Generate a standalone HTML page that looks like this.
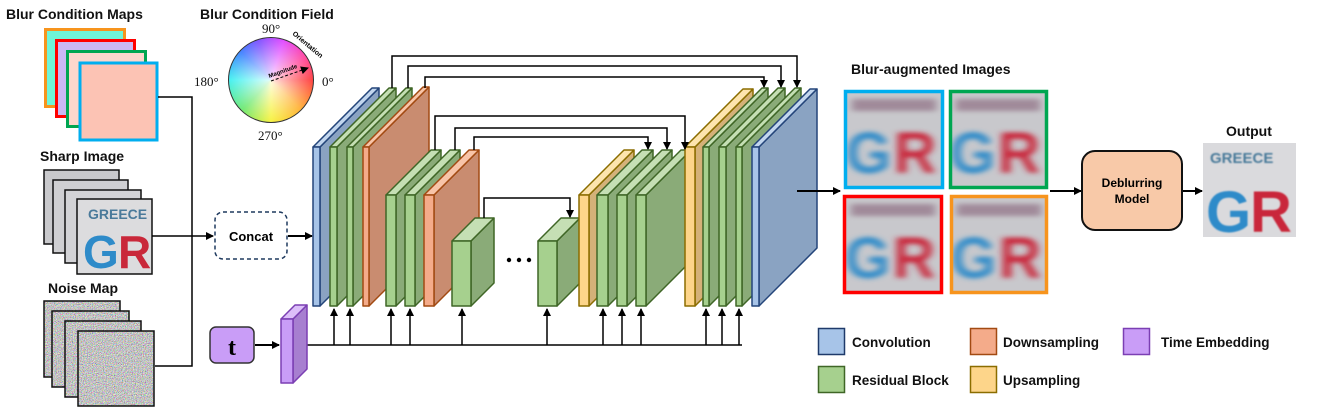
<!DOCTYPE html>
<html><head><meta charset="utf-8">
<style>
body{margin:0;background:#fff;width:1323px;height:416px;overflow:hidden;position:relative;font-family:"Liberation Sans",sans-serif}
svg{position:absolute;left:0;top:0}
.wheel{position:absolute;left:228px;top:37px;width:86px;height:86px;border-radius:50%;border:1.5px solid #333;box-sizing:border-box;
background:radial-gradient(circle,rgba(255,255,255,.85) 0,rgba(255,255,255,0) 75%),conic-gradient(from 90deg,#ff3a3a,#ffb030 ,#f6f23a 25%,#6be86b 37%,#3ef0f0 50%,#3a7cff 62%,#7a4dff 70%,#e044ff 80%,#ff40a0 90%,#ff3a3a)}
</style></head><body>
<div class="wheel"></div>
<svg width="1323" height="416" viewBox="0 0 1323 416" font-family="Liberation Sans, sans-serif">
<defs>
<marker id="ar" markerWidth="8" markerHeight="8" refX="7" refY="4" orient="auto" markerUnits="userSpaceOnUse"><path d="M0,0L8,4L0,8z" fill="#000"/></marker>
<filter id="bl" x="-20%" y="-20%" width="140%" height="140%"><feGaussianBlur stdDeviation="4 2.5"/></filter>
<filter id="bl2"><feGaussianBlur stdDeviation="0.8"/></filter>
<filter id="nz" filterUnits="objectBoundingBox" x="0" y="0" width="1" height="1"><feTurbulence type="fractalNoise" baseFrequency="1.1" numOctaves="1" seed="3"/><feColorMatrix type="matrix" values="1.8 0 0 0 -0.35  0 1.8 0 0 -0.35  0 0 1.8 0 -0.35  0 0 0 0 1"/></filter>
</defs>
<g font-weight="bold" font-size="14" fill="#111">
<text x="6" y="19">Blur Condition Maps</text>
<text x="200" y="19">Blur Condition Field</text>
<text x="40" y="161">Sharp Image</text>
<text x="48" y="293">Noise Map</text>
<text x="851" y="74">Blur-augmented Images</text>
<text x="1226" y="136">Output</text>
</g>
<g font-family="Liberation Serif, serif" font-size="13" fill="#111">
<text x="262" y="33">90°</text><text x="194" y="86">180°</text><text x="322" y="86">0°</text><text x="258" y="140">270°</text>
</g>
<text x="287" y="42" font-size="7" font-weight="bold" transform="rotate(40 300 45)">Orientation</text>
<line x1="271" y1="81" x2="308" y2="68" stroke="#000" stroke-dasharray="3,2" marker-end="url(#ar)"/>
<text x="268" y="74" font-size="6" font-weight="bold" transform="rotate(-20 280 72)">Magnitude</text>
<!-- blur maps -->
<rect x="45.5" y="29.5" width="79" height="77" fill="#6ff5d8" stroke="#f7941d" stroke-width="3"/>
<rect x="56.5" y="40.5" width="78" height="76" fill="#cbb8f5" stroke="#f00" stroke-width="3"/>
<rect x="67.5" y="51.5" width="78" height="75" fill="#fcd7cc" stroke="#00a651" stroke-width="3"/>
<rect x="80" y="63" width="77" height="77" fill="#fcc3b4" stroke="#00aeef" stroke-width="3"/>
<!-- sharp -->
<g stroke="#111" stroke-width="1.5">
<rect x="44" y="170" width="75" height="74" fill="#c9c9cc"/>
<rect x="53" y="180" width="75" height="73" fill="#cfcfd2"/>
<rect x="65" y="190" width="76" height="73" fill="#d3d3d6"/>
<rect x="77" y="199" width="75" height="75" fill="#dcdcde"/>
</g>
<text x="88" y="219" font-size="14" font-weight="bold" fill="#4a7a9a">GREECE</text>
<text x="83" y="268" font-size="46" font-weight="bold" fill="#2e8bc9">G</text><text x="118" y="268" font-size="46" font-weight="bold" fill="#c9283a">R</text>
<!-- noise -->
<g stroke="#111" stroke-width="1.5">
<rect x="44" y="301" width="76" height="76" fill="#8c8a88" filter="url(#nz)"/>
<rect x="44" y="301" width="76" height="76" fill="none"/>
<rect x="52" y="311" width="77" height="76" fill="#8c8a88" filter="url(#nz)"/>
<rect x="52" y="311" width="77" height="76" fill="none"/>
<rect x="65" y="321" width="76" height="76" fill="#8c8a88" filter="url(#nz)"/>
<rect x="65" y="321" width="76" height="76" fill="none"/>
<rect x="78" y="331" width="76" height="75" fill="#8c8a88" filter="url(#nz)"/>
<rect x="78" y="331" width="76" height="75" fill="none"/>
</g>
<g stroke="#000" stroke-width="1.5" fill="none">
<polyline points="158,97 192,97 192,366 155,366"/>
<line x1="152" y1="236" x2="213" y2="236" marker-end="url(#ar)"/>
<line x1="288" y1="236" x2="312" y2="236" marker-end="url(#ar)" stroke-width="2"/>
<line x1="255" y1="345" x2="279" y2="345" marker-end="url(#ar)" stroke-width="2"/>
</g>
<rect x="215" y="212" width="72" height="47" rx="8" fill="#fff" stroke="#1f3a5f" stroke-width="1.5" stroke-dasharray="4,3"/>
<text x="251" y="241" font-size="13" font-weight="bold" text-anchor="middle">Concat</text>
<rect x="210" y="327" width="44" height="36" rx="6" fill="#c99df7" stroke="#333" stroke-width="1.5"/>
<text x="232" y="355" font-size="24" font-weight="bold" text-anchor="middle" font-family="Liberation Serif, serif">t</text>
<g stroke="#000" stroke-width="1.5" fill="none">
<line x1="301" y1="345" x2="742" y2="345"/>
</g>
<g id="slabs"></g>
<g stroke="#000" stroke-width="1.5" fill="none">
<polyline points="392,88 392,56 797,56 797,87" marker-end="url(#ar)"/>
<polyline points="408,88 408,66 781,66 781,87" marker-end="url(#ar)"/>
<polyline points="425,88 425,77 764,77 764,87" marker-end="url(#ar)"/>
<polyline points="435,150 435,116 685,116 685,149" marker-end="url(#ar)"/>
<polyline points="455,150 455,128 667,128 667,149" marker-end="url(#ar)"/>
<polyline points="474,150 474,137 648,137 648,149" marker-end="url(#ar)"/>
<polyline points="484,218 484,198 570,198 570,217" marker-end="url(#ar)"/>
<line x1="797" y1="191" x2="840" y2="191" stroke-width="2" marker-end="url(#ar)"/>
<line x1="1050" y1="191" x2="1081" y2="191" stroke-width="2" marker-end="url(#ar)"/>
<line x1="1182" y1="191" x2="1202" y2="191" stroke-width="2" marker-end="url(#ar)"/>
</g>
<g fill="#000"><circle cx="509" cy="260" r="2.2"/><circle cx="519" cy="260" r="2.2"/><circle cx="529" cy="260" r="2.2"/></g>
<defs><g id="blimg"><rect width="96" height="96" fill="#c8c8cc"/><g filter="url(#bl)"><text x="0" y="82" font-size="58" font-weight="bold" fill="#2e8bc9">G</text><text x="48" y="82" font-size="58" font-weight="bold" fill="#c9283a">R</text><rect x="6" y="8" width="84" height="12" fill="#a08a9a"/></g></g>
<clipPath id="cp"><rect width="96" height="96"/></clipPath></defs>
<g transform="translate(846,91)" clip-path="url(#cp)"><use href="#blimg"/></g>
<g transform="translate(950,91)" clip-path="url(#cp)"><use href="#blimg"/></g>
<g transform="translate(845,196)" clip-path="url(#cp)"><use href="#blimg"/></g>
<g transform="translate(951,196)" clip-path="url(#cp)"><use href="#blimg"/></g>
<g fill="none" stroke-width="3.5">
<rect x="845.5" y="91.5" width="97" height="96" stroke="#00aeef"/>
<rect x="950.5" y="91.5" width="96" height="96" stroke="#00a651"/>
<rect x="844.5" y="196.5" width="97" height="96" stroke="#f00"/>
<rect x="951.5" y="196.5" width="95" height="96" stroke="#f7941d"/>
</g>
<rect x="1082" y="151" width="100" height="79" rx="13" fill="#f8c9a8" stroke="#111" stroke-width="2"/>
<text x="1132" y="187" font-size="12" font-weight="bold" text-anchor="middle">Deblurring</text>
<text x="1132" y="203" font-size="12" font-weight="bold" text-anchor="middle">Model</text>
<rect x="1203" y="143" width="93" height="94" fill="#dadadd"/>
<g filter="url(#bl2)"><text x="1210" y="163" font-size="15" font-weight="bold" fill="#4a7a9a">GREECE</text>
<text x="1206" y="232" font-size="58" font-weight="bold" fill="#2e8bc9">G</text><text x="1250" y="232" font-size="58" font-weight="bold" fill="#c9283a">R</text></g>
<g stroke-width="1.5">
<rect x="818.5" y="328.5" width="26" height="26" fill="#a7c4e8" stroke="#1f3a6a"/>
<rect x="970.5" y="328.5" width="26" height="26" fill="#f4ab8a" stroke="#a24a12"/>
<rect x="1123.5" y="328.5" width="26" height="26" fill="#c99df7" stroke="#7b3fb3"/>
<rect x="818.5" y="366.5" width="26" height="26" fill="#a6d08e" stroke="#3f6626"/>
<rect x="970.5" y="366.5" width="26" height="26" fill="#fdd58a" stroke="#8b6d00"/>
</g>
<g font-size="13.5" font-weight="bold" fill="#111">
<text x="852" y="347">Convolution</text><text x="1003" y="347">Downsampling</text><text x="1161" y="347">Time Embedding</text>
<text x="852" y="385">Residual Block</text><text x="1003" y="385">Upsampling</text>
</g>
</svg>
<script>
var C={b:['#a7c4e8','#c2d6ee','#8aa3c2','#24457a'],g:['#a6d08e','#c5dfb4','#8aab78','#3f6626'],o:['#f4ab8a','#f8c4a8','#c98c70','#a24a12'],y:['#fdd58a','#fde4ae','#d4b178','#8b6d00'],p:['#c99df7','#dcbff9','#a77fd0','#7b3fb3']};
var S=[
['b',313,147,7,159,59],['g',330,147,7,159,59],['g',347,147,6,159,59],['o',363,147,6,159,60],
['g',386,195,10,111,45],['g',405,195,10,111,45],['o',424,195,10,111,45],
['g',452,241,19,65,23],['g',538,241,19,65,23],
['y',579,195,10,111,45],['g',597,195,11,111,45],['g',617,195,10,111,45],['g',636,195,10,111,45],
['y',685,147,10,159,58],['g',703,147,6,159,59],['g',719,147,7,159,59],['g',736,147,6,159,59],['b',752,147,7,159,58],
['p',281,319,12,64,14]];
var h='';
S.forEach(function(s){var c=C[s[0]],x=s[1],y=s[2],w=s[3],H=s[4],d=s[5];
var st='stroke="'+c[3]+'" stroke-width="1.5" stroke-linejoin="round"';
h+='<polygon points="'+(x+w)+','+y+' '+(x+w+d)+','+(y-d)+' '+(x+w+d)+','+(y+H-d)+' '+(x+w)+','+(y+H)+'" fill="'+c[2]+'" '+st+'/>';
h+='<polygon points="'+x+','+y+' '+(x+w)+','+y+' '+(x+w+d)+','+(y-d)+' '+(x+d)+','+(y-d)+'" fill="'+c[1]+'" '+st+'/>';
h+='<rect x="'+x+'" y="'+y+'" width="'+w+'" height="'+H+'" fill="'+c[0]+'" '+st+'/>';});
var ups=[334,350,391,410,462,547,603,622,641,706,722,739];
ups.forEach(function(x){h+='<line x1="'+x+'" y1="345" x2="'+x+'" y2="309" stroke="#000" stroke-width="1.5" marker-end="url(#ar)"/>';});
document.getElementById('slabs').innerHTML=h;
</script>
</body></html>
